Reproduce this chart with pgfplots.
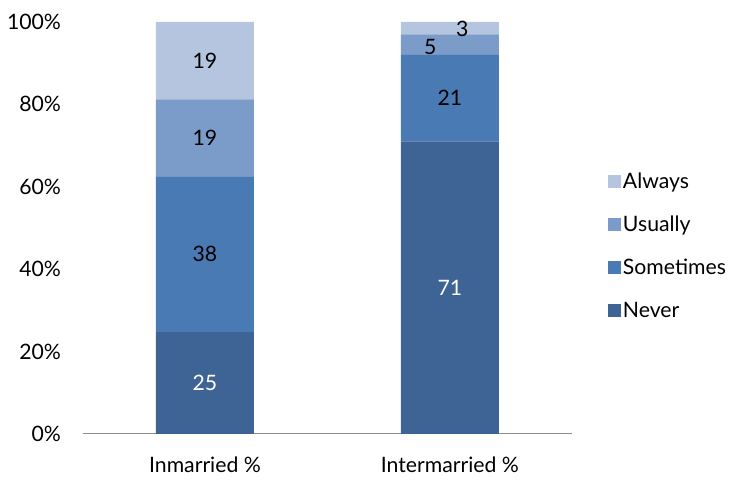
\documentclass[border=0pt]{standalone}
\usepackage{pgfplots}
\pgfplotsset{compat=1.18}
\usepackage{fontspec}
\setmainfont{Lato}
\definecolor{cNever}{HTML}{3E6496}
\definecolor{cSome}{HTML}{4A7AB4}
\definecolor{cUsu}{HTML}{7B9BC8}
\definecolor{cAlw}{HTML}{B5C4DF}
\begin{document}
\fontsize{21}{25}\selectfont
\begin{tikzpicture}
\pgfplotsset{base/.style={
  scale only axis, width=485pt, height=408pt,
  xmin=-0.5, xmax=1.5, ymin=0, ymax=100}}
\begin{axis}[base,
  ybar stacked, bar width=97pt,
  xtick={0,1}, xticklabels={Inmarried \%, Intermarried \%},
  ytick={0,20,40,60,80,100},
  yticklabels={0\%,20\%,40\%,60\%,80\%,100\%},
  axis x line=bottom, axis y line=left,
  y axis line style={draw=none},
  x axis line style={-, draw=black!45, line width=1pt},
  xtick style={draw=none}, ytick style={draw=none},
  yticklabel style={xshift=-12pt},
  xticklabel style={yshift=-13pt},
  tick label style={font=\fontsize{21}{25}\selectfont},
  legend style={draw=none, at={(1.072,0.455)}, anchor=west,
    font=\fontsize{21}{25}\selectfont, row sep=20pt,
    cells={anchor=west}, inner sep=0pt},
  legend image code/.code={\fill[#1] (0pt,-6pt) rectangle (13pt,7pt);},
  reverse legend,
  clip=false,
]
\addplot[fill=cNever, draw=none] coordinates {(0,24.75) (1,71)};
\addplot[fill=cSome, draw=none] coordinates {(0,37.62) (1,21)};
\addplot[fill=cUsu, draw=none] coordinates {(0,18.81) (1,5)};
\addplot[fill=cAlw, draw=none] coordinates {(0,18.82) (1,3)};
\legend{Never,Sometimes,Usually,Always}
\end{axis}
\begin{axis}[base, hide axis, clip=false]
\addplot[only marks, mark=none, nodes near coords,
  point meta=explicit symbolic,
  every node near coord/.append style={anchor=center, text=black,
    font=\fontsize{21}{25}\selectfont}]
  table[x=x, y=y, meta=lab] {
x y lab
0 43.6 38
0 71.8 19
0 90.6 19
1 81.5 21
0.92 93.9 5
1.05 98.2 3
};
\addplot[only marks, mark=none, nodes near coords,
  point meta=explicit symbolic,
  every node near coord/.append style={anchor=center, text=white,
    font=\fontsize{21}{25}\selectfont}]
  table[x=x, y=y, meta=lab] {
x y lab
0 12.4 25
1 35.5 71
};
\end{axis}
\path ([yshift=7pt]current bounding box.north);
\path ([xshift=5pt]current bounding box.east);
\end{tikzpicture}
\end{document}
